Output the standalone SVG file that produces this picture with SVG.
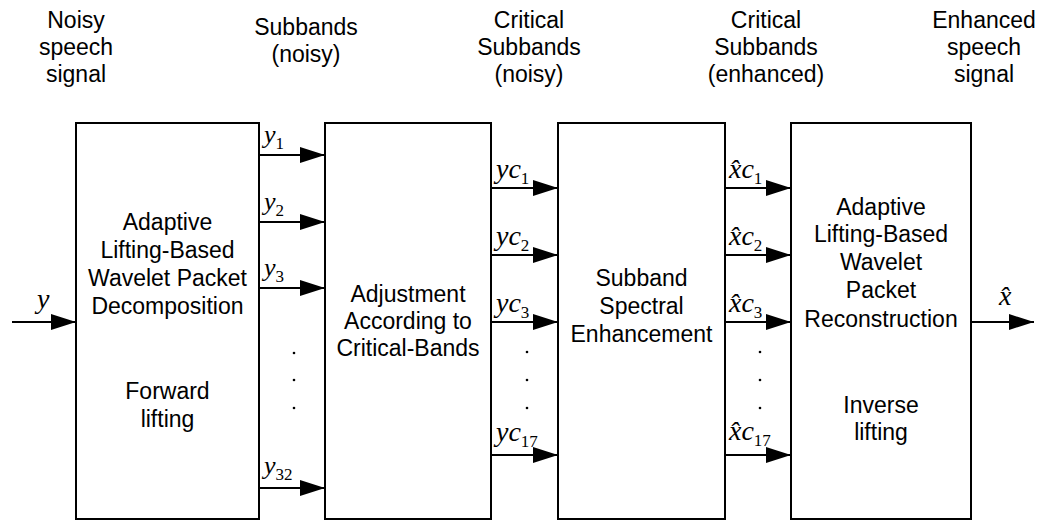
<svg xmlns="http://www.w3.org/2000/svg" width="1047" height="521" viewBox="0 0 1047 521">
  <style>
    .box { fill: #fff; stroke: #000; stroke-width: 2; }
    .lbl { font-family: "Liberation Sans", Arial, sans-serif; font-size: 23px; fill: #000; text-anchor: middle; }
    .m { font-family: "Liberation Serif", "Times New Roman", serif; font-style: italic; fill: #000; }
    .m26 { font-size: 26px; }
    .m28 { font-size: 28px; }
    .sub { font-style: normal; font-size: 17px; }
    .wire { stroke: #000; stroke-width: 2; fill: none; marker-end: url(#head); }
    .dot { fill: #000; }
  </style>
  <defs>
    <marker id="head" markerUnits="userSpaceOnUse" markerWidth="25" markerHeight="16" refX="25" refY="8" orient="auto">
      <path d="M0,0 L25,8 L0,16 z" fill="#000"/>
    </marker>
  </defs>

  <!-- column headings -->
  <g id="headings" class="lbl">
    <text x="76" y="27.5">Noisy</text>
    <text x="76" y="54.5">speech</text>
    <text x="76" y="81.5">signal</text>
    <text x="306" y="34.5">Subbands</text>
    <text x="306" y="61.5">(noisy)</text>
    <text x="529" y="27.5">Critical</text>
    <text x="529" y="54.5">Subbands</text>
    <text x="529" y="81.5">(noisy)</text>
    <text x="766" y="27.5">Critical</text>
    <text x="766" y="54.5">Subbands</text>
    <text x="766" y="81.5">(enhanced)</text>
    <text x="984" y="27.5">Enhanced</text>
    <text x="984" y="54.5">speech</text>
    <text x="984" y="81.5">signal</text>
  </g>

  <!-- processing blocks -->
  <g id="decomposition">
    <rect class="box" x="76" y="123" width="183" height="396"/>
    <g class="lbl">
      <text x="167.5" y="230">Adaptive</text>
      <text x="167.5" y="258">Lifting-Based</text>
      <text x="167.5" y="286">Wavelet Packet</text>
      <text x="167.5" y="314">Decomposition</text>
      <text x="167.5" y="399">Forward</text>
      <text x="167.5" y="427">lifting</text>
    </g>
  </g>

  <g id="adjustment">
    <rect class="box" x="325" y="123" width="166" height="396"/>
    <g class="lbl">
      <text x="408" y="302">Adjustment</text>
      <text x="408" y="329">According to</text>
      <text x="408" y="356">Critical-Bands</text>
    </g>
  </g>

  <g id="enhancement">
    <rect class="box" x="558" y="123" width="167" height="396"/>
    <g class="lbl">
      <text x="641.5" y="286">Subband</text>
      <text x="641.5" y="314">Spectral</text>
      <text x="641.5" y="342">Enhancement</text>
    </g>
  </g>

  <g id="reconstruction">
    <rect class="box" x="791" y="123" width="180" height="396"/>
    <g class="lbl">
      <text x="881" y="215">Adaptive</text>
      <text x="881" y="242">Lifting-Based</text>
      <text x="881" y="270">Wavelet</text>
      <text x="881" y="298">Packet</text>
      <text x="881" y="327">Reconstruction</text>
      <text x="881" y="413">Inverse</text>
      <text x="881" y="440">lifting</text>
    </g>
  </g>

  <!-- signal connectors -->
  <g id="connectors">
    <line class="wire" x1="12" y1="322" x2="76" y2="322"/>
    <line class="wire" x1="259" y1="155" x2="325" y2="155"/>
    <line class="wire" x1="259" y1="222" x2="325" y2="222"/>
    <line class="wire" x1="259" y1="288" x2="325" y2="288"/>
    <line class="wire" x1="259" y1="488" x2="325" y2="488"/>
    <line class="wire" x1="491" y1="188" x2="558" y2="188"/>
    <line class="wire" x1="491" y1="255" x2="558" y2="255"/>
    <line class="wire" x1="491" y1="322" x2="558" y2="322"/>
    <line class="wire" x1="491" y1="455" x2="558" y2="455"/>
    <line class="wire" x1="725" y1="188" x2="791" y2="188"/>
    <line class="wire" x1="725" y1="255" x2="791" y2="255"/>
    <line class="wire" x1="725" y1="322" x2="791" y2="322"/>
    <line class="wire" x1="725" y1="455" x2="791" y2="455"/>
    <line class="wire" x1="971" y1="322" x2="1034" y2="322"/>

    <!-- ellipsis dots between channels -->
    <circle class="dot" cx="294" cy="353" r="1.3"/>
    <circle class="dot" cx="294" cy="380" r="1.3"/>
    <circle class="dot" cx="294" cy="408" r="1.3"/>
    <circle class="dot" cx="527" cy="352" r="1.3"/>
    <circle class="dot" cx="527" cy="380" r="1.3"/>
    <circle class="dot" cx="527" cy="408" r="1.3"/>
    <circle class="dot" cx="760" cy="352" r="1.3"/>
    <circle class="dot" cx="760" cy="380" r="1.3"/>
    <circle class="dot" cx="760" cy="408" r="1.3"/>

    <!-- signal symbols -->
    <text class="m m28" x="37" y="308">y</text>
    <text class="m m26" x="264" y="143">y<tspan class="sub" y="149">1</tspan></text>
    <text class="m m26" x="264" y="210">y<tspan class="sub" y="216">2</tspan></text>
    <text class="m m26" x="264" y="276">y<tspan class="sub" y="282">3</tspan></text>
    <text class="m m26" x="264" y="474">y<tspan class="sub" y="480">32</tspan></text>
    <text class="m m28" x="496" y="178">yc<tspan class="sub" y="184">1</tspan></text>
    <text class="m m28" x="496" y="245">yc<tspan class="sub" y="251">2</tspan></text>
    <text class="m m28" x="496" y="312">yc<tspan class="sub" y="318">3</tspan></text>
    <text class="m m28" x="496" y="441">yc<tspan class="sub" y="447">17</tspan></text>
    <text class="m m28" x="729" y="178">x̂c<tspan class="sub" y="184">1</tspan></text>
    <text class="m m28" x="729" y="245">x̂c<tspan class="sub" y="251">2</tspan></text>
    <text class="m m28" x="729" y="312">x̂c<tspan class="sub" y="318">3</tspan></text>
    <text class="m m28" x="729" y="440">x̂c<tspan class="sub" y="446">17</tspan></text>
    <text class="m m28" x="999" y="305">x̂</text>
  </g>
</svg>
